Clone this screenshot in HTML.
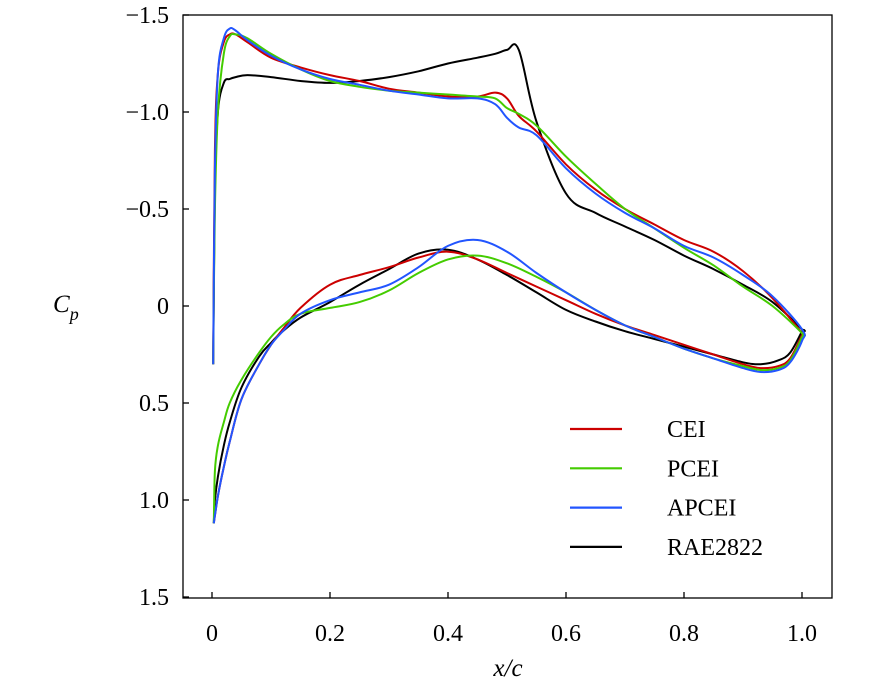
<!DOCTYPE html>
<html><head><meta charset="utf-8"><style>
body{margin:0;background:#fff}
svg{display:block;font-family:"Liberation Serif",serif}
</style></head><body>
<svg id="chart" width="886" height="688" viewBox="0 0 886 688"></svg>
<script>
const xTicks=[0,0.2,0.4,0.6,0.8,1.0];
const xTickLabels=["0","0.2","0.4","0.6","0.8","1.0"];
const yTicks=[-1.5,-1.0,-0.5,0,0.5,1.0,1.5];
const yTickLabels=["\u22121.5","\u22121.0","\u22120.5","0","0.5","1.0","1.5"];
const seriesNames=["CEI","PCEI","APCEI","RAE2822"];
const seriesColors=["#cc0000","#44cc00","#2255ff","#000000"];
const upperX=[0.002,0.005,0.01,0.02,0.03,0.04,0.06,0.1,0.15,0.2,0.25,0.3,0.35,0.4,0.45,0.48,0.5,0.52,0.55,0.6,0.65,0.7,0.75,0.8,0.85,0.9,0.95,1.0];
const ceiUpper=[0.3,-0.8,-1.2,-1.36,-1.40,-1.40,-1.36,-1.28,-1.23,-1.19,-1.16,-1.12,-1.10,-1.08,-1.08,-1.10,-1.07,-0.98,-0.90,-0.73,-0.60,-0.50,-0.42,-0.34,-0.28,-0.18,-0.04,0.14];
const pceiUpper=[0.3,-0.5,-1.0,-1.30,-1.39,-1.40,-1.38,-1.30,-1.22,-1.16,-1.13,-1.11,-1.10,-1.09,-1.08,-1.07,-1.02,-0.99,-0.93,-0.77,-0.63,-0.50,-0.40,-0.30,-0.21,-0.10,0.0,0.14];
const apceiUpper=[0.3,-0.7,-1.2,-1.38,-1.43,-1.42,-1.37,-1.29,-1.22,-1.17,-1.14,-1.11,-1.09,-1.07,-1.07,-1.04,-0.97,-0.92,-0.88,-0.71,-0.58,-0.48,-0.40,-0.31,-0.25,-0.16,-0.05,0.12];
const raeUpper=[0.3,-0.6,-1.0,-1.15,-1.17,-1.18,-1.19,-1.18,-1.16,-1.15,-1.16,-1.18,-1.21,-1.25,-1.28,-1.30,-1.32,-1.32,-0.95,-0.58,-0.48,-0.41,-0.34,-0.26,-0.19,-0.11,-0.02,0.12];
const lowerX=[0.003,0.005,0.01,0.02,0.03,0.05,0.08,0.1,0.12,0.15,0.2,0.25,0.3,0.35,0.4,0.45,0.5,0.55,0.6,0.65,0.7,0.75,0.8,0.85,0.9,0.93,0.96,0.98,1.0];
const ceiLower=[1.12,1.08,0.98,0.83,0.70,0.48,0.30,0.20,0.12,0.01,-0.11,-0.16,-0.20,-0.25,-0.28,-0.24,-0.17,-0.10,-0.03,0.04,0.10,0.15,0.20,0.25,0.30,0.32,0.31,0.27,0.15];
const pceiLower=[1.12,0.85,0.72,0.60,0.50,0.38,0.24,0.16,0.10,0.04,0.01,-0.02,-0.08,-0.17,-0.24,-0.26,-0.22,-0.15,-0.07,0.02,0.10,0.16,0.22,0.27,0.31,0.33,0.32,0.28,0.16];
const apceiLower=[1.12,1.08,0.98,0.83,0.70,0.48,0.30,0.20,0.13,0.04,-0.03,-0.07,-0.11,-0.20,-0.31,-0.34,-0.28,-0.17,-0.07,0.02,0.10,0.16,0.22,0.27,0.32,0.34,0.33,0.29,0.18];
const raeLower=[1.12,1.0,0.88,0.72,0.60,0.42,0.26,0.19,0.13,0.06,-0.02,-0.11,-0.19,-0.27,-0.29,-0.24,-0.16,-0.07,0.02,0.08,0.13,0.17,0.21,0.25,0.29,0.30,0.28,0.24,0.13];
const uppers=[ceiUpper,pceiUpper,apceiUpper,raeUpper];
const lowers=[ceiLower,pceiLower,apceiLower,raeLower];

const NS="http://www.w3.org/2000/svg";
const svg=document.getElementById('chart');
const X=v=>212+v*590;
const Y=v=>306+v*194;
function mk(t,a){const e=document.createElementNS(NS,t);for(const k in a)e.setAttribute(k,a[k]);svg.appendChild(e);return e;}
function smooth(p){
  let d='M'+p[0][0].toFixed(1)+','+p[0][1].toFixed(1);
  const t=0.35;
  for(let i=0;i<p.length-1;i++){
    const p0=p[Math.max(0,i-1)],p1=p[i],p2=p[i+1],p3=p[Math.min(p.length-1,i+2)];
    const c1=[p1[0]+(p2[0]-p0[0])*t/2,p1[1]+(p2[1]-p0[1])*t/2];
    const c2=[p2[0]-(p3[0]-p1[0])*t/2,p2[1]-(p3[1]-p1[1])*t/2];
    d+=' C'+c1.map(v=>v.toFixed(1)).join(',')+' '+c2.map(v=>v.toFixed(1)).join(',')+' '+p2.map(v=>v.toFixed(1)).join(',');
  }
  return d;
}

const frame=mk('rect',{x:183,y:15,width:649,height:583,fill:'none',stroke:'#000','stroke-width':1.3});



xTicks.forEach((t,i)=>{
  const l=mk('line',{x1:X(t),x2:X(t),y1:598,y2:592,stroke:'#000','stroke-width':1.3});
  
  
  const tx=mk('text',{x:X(t),y:641,'text-anchor':'middle','font-size':24});
  tx.textContent=xTickLabels[i];
  
  
});
yTicks.forEach((t,i)=>{
  const l=mk('line',{x1:183,x2:189,y1:Y(t),y2:Y(t),stroke:'#000','stroke-width':1.3});
  
  
  const tx=mk('text',{x:169,y:Y(t)+8,'text-anchor':'end','font-size':24});
  tx.textContent=yTickLabels[i];
  
  
});

const xt=mk('text',{x:508,y:676,'text-anchor':'middle','font-size':25,'font-style':'italic'});
xt.textContent='x/c';


const yt=mk('text',{x:53,y:312,'font-size':25,'font-style':'italic'});
yt.innerHTML='C<tspan font-size="18" dy="8">p</tspan>';



[3,0,1,2].forEach(s=>{
  let pts=[];
  upperX.forEach((x,i)=>pts.push([X(x),Y(uppers[s][i])]));
  for(let i=lowerX.length-1;i>=0;i--)pts.push([X(lowerX[i]),Y(lowers[s][i])]);
  const p=mk('path',{d:smooth(pts),fill:'none',stroke:seriesColors[s],'stroke-width':2,'stroke-linejoin':'round'});
  
  
});

seriesNames.forEach((n,i)=>{
  const y=429+i*39.3;
  const l=mk('line',{x1:570,x2:622,y1:y,y2:y,stroke:seriesColors[i],'stroke-width':2.2});
  
  
  const t=mk('text',{x:667,y:y+8,'font-size':24});
  t.textContent=n;
  
  
});
</script>
</body></html>
